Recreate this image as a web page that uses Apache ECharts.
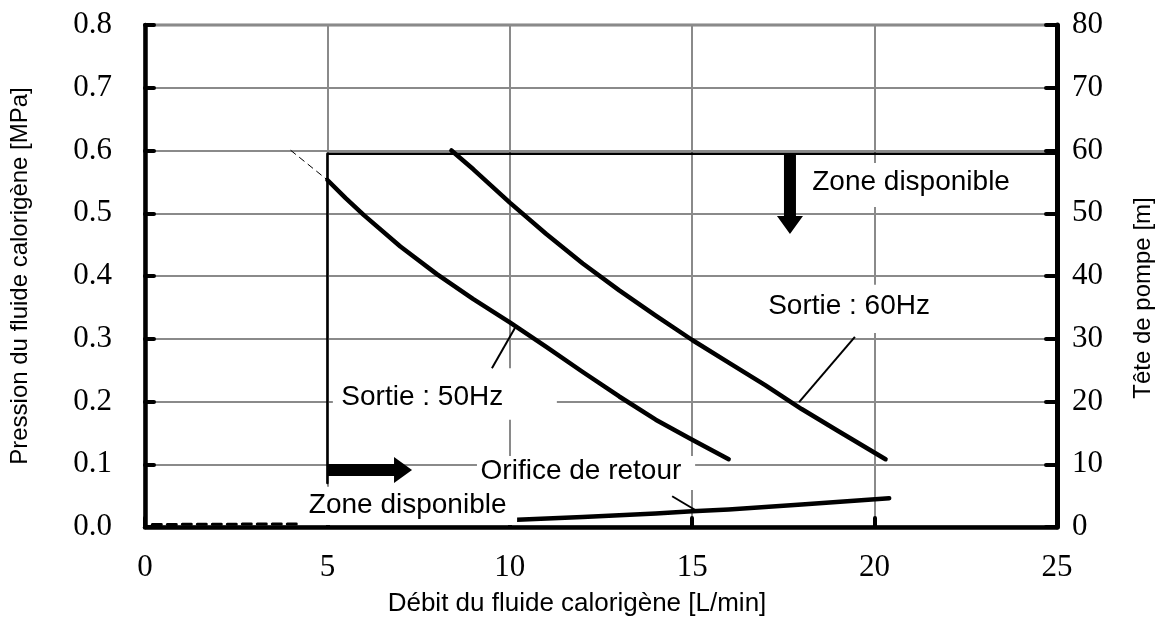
<!DOCTYPE html>
<html>
<head>
<meta charset="utf-8">
<script src="https://cdn.jsdelivr.net/npm/echarts@6/dist/echarts.min.js"></script>
<style>
  html, body { margin: 0; padding: 0; background: #fff; }
  #chart { width: 1155px; height: 628px; }
</style>
</head>
<body>
<div id="chart"></div>
<script>
// Axis ranges and ticks
const xTicks = [0, 5, 10, 15, 20, 25];
const pressureTicks = [0, 0.1, 0.2, 0.3, 0.4, 0.5, 0.6, 0.7, 0.8];
const headTicks = [0, 10, 20, 30, 40, 50, 60, 70, 80];

// Pump curves: [flow L/min, pressure MPa]
const curve50Hz = [[5, 0.553], [5.5, 0.524], [6, 0.497], [7, 0.447], [8, 0.403], [9, 0.363], [10, 0.326],
  [11, 0.287], [12, 0.247], [13, 0.208], [14, 0.171], [15, 0.139], [16, 0.108]];
const curve50HzExtension = [[4, 0.6], [5, 0.553]];
const curve60Hz = [[8.4, 0.6], [9, 0.57], [10, 0.517], [11, 0.467], [12, 0.42], [13, 0.377],
  [14, 0.337], [15, 0.298], [16, 0.262], [17, 0.226], [18, 0.188], [19, 0.153], [20.3, 0.108]];

// Return orifice resistance
const returnOrifice = [[9.5, 0.01], [10.2, 0.0115], [12, 0.016], [14, 0.0215], [15, 0.025],
  [16, 0.028], [18, 0.036], [20.4, 0.046]];
const returnOrificeLow = [[0.2, 0.004], [4.3, 0.005]];

// Usable zone boundary (min flow 5 L/min, max pressure 0.6 MPa)
const zoneBoundary = [[5, 0.07], [5, 0.595], [25, 0.595]];

// Leader lines from labels to curves: [x0, y0, x1, y1]
const leaders = [
  [9.51, 0.253, 10.14, 0.317],
  [19.46, 0.303, 17.93, 0.199],
  [14.45, 0.049, 15.13, 0.0255]
];

// Arrows pointing into the usable zone: [xFrom, yFrom, xTo, yTo]
const arrows = [
  [5, 0.091, 7.32, 0.091],
  [17.68, 0.596, 17.68, 0.467]
];

// Annotation texts: text, text centre [x, y], white box [x0, yTop, x1, yBottom]
const noteTexts = ['Zone disponible', 'Zone disponible', 'Orifice de retour', 'Sortie : 50Hz', 'Sortie : 60Hz'];
const noteCentres = [[21.0, 0.550], [7.2, 0.035], [11.95, 0.088], [7.6, 0.207], [19.3, 0.351]];
const noteBoxes = [
  [18.04, 0.580, 23.85, 0.510],
  [4.39, 0.064, 10.2, 0.003],
  [9.10, 0.113, 15.08, 0.059],
  [5.15, 0.253, 11.29, 0.171],
  [16.86, 0.386, 21.66, 0.309]
];

const SANS = 'Liberation Sans, Arial, sans-serif';
const SERIF = 'Liberation Serif, Times New Roman, serif';

const chart = echarts.init(document.getElementById('chart'));

function lineSeries(data, width, dashed) {
  return {
    type: 'line', data: data, showSymbol: false, symbol: 'none', silent: true,
    xAxisIndex: 0, yAxisIndex: 0, animation: false, z: 3,
    lineStyle: { color: '#000', width: width, type: dashed || 'solid', cap: 'round', join: 'round' }
  };
}

chart.setOption({
  animation: false,
  backgroundColor: '#fff',
  grid: {
    left: 145, right: 98, top: 25, bottom: 101, containLabel: false, outerBoundsMode: 'none',
    show: true, borderColor: '#000', borderWidth: 2.5, backgroundColor: 'transparent'
  },
  xAxis: {
    type: 'value', min: xTicks[0], max: xTicks[xTicks.length - 1], interval: 5,
    name: 'Débit du fluide calorigène [L/min]', nameLocation: 'middle', nameGap: 64,
    nameTextStyle: { fontFamily: SANS, fontSize: 26, color: '#000', padding: [0, 48, 0, 0] },
    axisLine: { lineStyle: { color: '#000', width: 4.5 } },
    axisTick: { inside: true, length: 9, lineStyle: { color: '#000', width: 4, cap: 'round' } },
    axisLabel: { fontFamily: SERIF, fontSize: 31, color: '#000', margin: 25 },
    splitLine: { show: true, lineStyle: { color: '#8a8a8a', width: 2 } }
  },
  yAxis: [
    {
      type: 'value', position: 'left', min: pressureTicks[0], max: pressureTicks[pressureTicks.length - 1], interval: 0.1,
      name: 'Pression du fluide calorigène [MPa]', nameLocation: 'middle', nameGap: 113,
      nameTextStyle: { fontFamily: SANS, fontSize: 24, color: '#000' },
      axisLine: { show: true, lineStyle: { color: '#000', width: 4.5 } },
      axisTick: { show: true, inside: true, length: 9, lineStyle: { color: '#000', width: 4, cap: 'round' } },
      axisLabel: { fontFamily: SERIF, fontSize: 31, color: '#000', margin: 33, formatter: v => v.toFixed(1) },
      splitLine: { show: true, lineStyle: { color: '#8a8a8a', width: 2 } }
    },
    {
      type: 'value', position: 'right', min: headTicks[0], max: headTicks[headTicks.length - 1], interval: 10,
      name: 'Tête de pompe [m]', nameLocation: 'middle', nameGap: 74,
      nameTextStyle: { fontFamily: SANS, fontSize: 24, color: '#000', padding: [0, 44, 0, 0] },
      axisLine: { show: true, lineStyle: { color: '#000', width: 5 } },
      axisTick: { show: true, inside: true, length: 11, lineStyle: { color: '#000', width: 4, cap: 'round' } },
      axisLabel: { fontFamily: SERIF, fontSize: 31, color: '#000', margin: 15 },
      splitLine: { show: false }
    }
  ],
  series: [
    lineSeries(zoneBoundary, 2.5),
    lineSeries(curve50HzExtension, 1, [6, 5]),
    lineSeries(curve50Hz, 4.5),
    lineSeries(curve60Hz, 4.5),
    lineSeries(returnOrifice, 4.5),
    lineSeries(returnOrificeLow, 3, [9, 6]),
    {
      // white label boxes with their texts
      type: 'custom', silent: true, z: 10,
      data: noteTexts.map((t, i) => [i]),
      renderItem: function (params, api) {
        const i = api.value(0);
        const b = noteBoxes[i];
        const p0 = api.coord([b[0], b[1]]);
        const p1 = api.coord([b[2], b[3]]);
        const c = api.coord(noteCentres[i]);
        return {
          type: 'group',
          children: [
            { type: 'rect', shape: { x: p0[0], y: p0[1], width: p1[0] - p0[0], height: p1[1] - p0[1] }, style: { fill: '#fff' } },
            { type: 'text', style: { text: noteTexts[i], x: c[0], y: c[1], align: 'center', verticalAlign: 'middle',
              fontFamily: SANS, fontSize: 28, fill: '#000' } }
          ]
        };
      }
    },
    {
      // leader lines
      type: 'custom', silent: true, z: 11,
      data: leaders,
      renderItem: function (params, api) {
        const a = api.coord([api.value(0), api.value(1)]);
        const b = api.coord([api.value(2), api.value(3)]);
        return { type: 'line', shape: { x1: a[0], y1: a[1], x2: b[0], y2: b[1] }, style: { stroke: '#000', lineWidth: 2 } };
      }
    },
    {
      // block arrows
      type: 'custom', silent: true, z: 11,
      data: arrows,
      renderItem: function (params, api) {
        const a = api.coord([api.value(0), api.value(1)]);
        const b = api.coord([api.value(2), api.value(3)]);
        const dx = b[0] - a[0], dy = b[1] - a[1];
        const len = Math.sqrt(dx * dx + dy * dy);
        const ux = dx / len, uy = dy / len;
        const nx = -uy, ny = ux;
        const shaft = 6, head = 13, headLen = 18;
        const hx = b[0] - ux * headLen, hy = b[1] - uy * headLen;
        const pts = [
          [a[0] + nx * shaft, a[1] + ny * shaft],
          [hx + nx * shaft, hy + ny * shaft],
          [hx + nx * head, hy + ny * head],
          [b[0], b[1]],
          [hx - nx * head, hy - ny * head],
          [hx - nx * shaft, hy - ny * shaft],
          [a[0] - nx * shaft, a[1] - ny * shaft]
        ];
        return { type: 'polygon', shape: { points: pts }, style: { fill: '#000' } };
      }
    }
  ]
});
</script>
</body>
</html>
